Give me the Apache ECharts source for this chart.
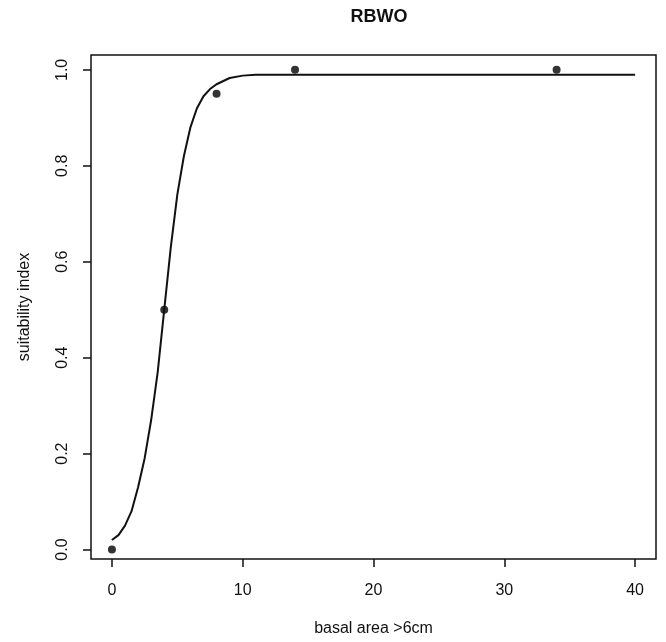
<!DOCTYPE html>
<html>
<head>
<meta charset="utf-8">
<script src="https://cdn.jsdelivr.net/npm/echarts@6/dist/echarts.min.js"></script>
<style>html,body{margin:0;padding:0;background:#fff}#c{width:666px;height:642px}</style>
</head>
<body>
<div id="c"></div>
<script>
// Observed points
var obsX = [0, 4, 8, 14, 34];
var obsY = [0, 0.5, 0.95, 1.0, 1.0];
// Fitted curve, values
var curveX = [0, 0.5, 1, 1.5, 2, 2.5, 3, 3.5, 4, 4.5, 5, 5.5, 6, 6.5, 7, 7.5, 8, 9, 10, 11, 40];
var curveY = [0.02, 0.03, 0.05, 0.08, 0.13, 0.19, 0.27, 0.37, 0.50, 0.63, 0.74, 0.82, 0.88, 0.92, 0.945, 0.96, 0.97, 0.983, 0.988, 0.99, 0.99];
// Tick labels
var xTicks = [0, 10, 20, 30, 40];
var yTicks = [0, 0.2, 0.4, 0.6, 0.8, 1.0];

var titleText = 'RBWO';
var xName = 'basal area >6cm';
var yName = 'suitability index';

var font = '"Liberation Sans", Arial, sans-serif';
var chart = echarts.init(document.getElementById('c'), null, {renderer: 'canvas'});
chart.setOption({
  animation: false,
  backgroundColor: '#fff',
  title: {
    text: titleText, left: 374, top: 3, textAlign: 'center',
    textStyle: {fontFamily: font, fontSize: 18, fontWeight: 'bold', color: '#111'}
  },
  grid: {
    left: 91, top: 55, width: 565, height: 506,
    show: true, borderColor: '#111', borderWidth: 1.5, backgroundColor: 'transparent'
  },
  xAxis: {
    type: 'value', min: -1.6, max: 41.6,
    name: xName, nameLocation: 'middle', nameGap: 62,
    nameTextStyle: {fontFamily: font, fontSize: 16, color: '#111'},
    axisLine: {show: false, onZero: false},
    splitLine: {show: false},
    axisTick: {show: true, customValues: xTicks, length: 8, lineStyle: {color: '#111', width: 1.5}},
    axisLabel: {customValues: xTicks, margin: 24, fontFamily: font, fontSize: 16, color: '#111'}
  },
  yAxis: {
    type: 'value', min: -0.0197, max: 1.031,
    name: yName, nameLocation: 'middle', nameGap: 58, nameRotate: 90,
    nameTextStyle: {fontFamily: font, fontSize: 16, color: '#111'},
    axisLine: {show: false, onZero: false},
    splitLine: {show: false},
    axisTick: {show: true, customValues: yTicks, length: 8, lineStyle: {color: '#111', width: 1.5}},
    axisLabel: {customValues: yTicks, rotate: 90, margin: 20, fontFamily: font, fontSize: 16, color: '#111',
      formatter: function (v) { return v.toFixed(1); }}
  },
  series: [
    {
      type: 'line',
      data: curveX.map(function (x, i) { return [x, curveY[i]]; }),
      showSymbol: false, smooth: false,
      lineStyle: {color: '#111', width: 2}
    },
    {
      type: 'scatter',
      data: obsX.map(function (x, i) { return [x, obsY[i]]; }),
      symbol: 'circle', symbolSize: 8,
      itemStyle: {color: '#000'}
    }
  ]
});
</script>
</body>
</html>
